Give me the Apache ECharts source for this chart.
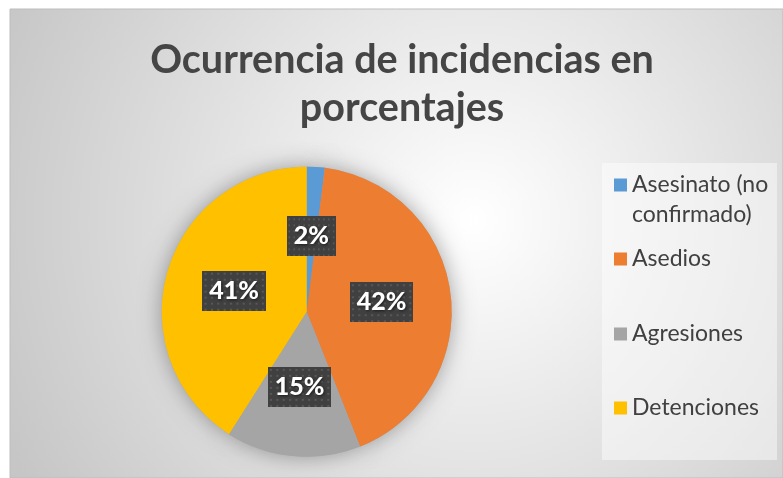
<!DOCTYPE html>
<html>
<head>
<meta charset="utf-8">
<script src="https://cdn.jsdelivr.net/npm/echarts@6/dist/echarts.min.js"></script>
<style>
  html, body { margin: 0; padding: 0; background: #ffffff; }
  #main { width: 783px; height: 478px; }
</style>
</head>
<body>
<div id="main"></div>
<script>
// datos del gráfico
const categorias = ['Asesinato (no confirmado)', 'Asedios', 'Agresiones', 'Detenciones'];
const porcentajes = [2, 42, 15, 41];
const colores = ['#5B9BD5', '#ED7D31', '#A5A5A5', '#FFC000'];
const titulo = 'Ocurrencia de incidencias en\nporcentajes';

// fondo punteado de las etiquetas
function patron() {
  const c = document.createElement('canvas');
  c.width = 60; c.height = 40;
  const ctx = c.getContext('2d');
  ctx.fillStyle = '#404040';
  ctx.fillRect(0, 0, 60, 40);
  ctx.fillStyle = '#575757';
  for (let x = 2; x < 60; x += 6) {
    for (let y = 2; y < 40; y += 6) ctx.fillRect(x, y, 2, 2);
  }
  return c;
}

const datos = categorias.map((n, i) => ({ name: n, value: porcentajes[i], itemStyle: { color: colores[i] } }));

// leyenda: una por elemento para colocar cada una
// (la primera lleva una línea vacía arriba para alinear el icono con la primera línea)
const leyendaTops = [140, 244, 319, 393];
const leyendas = categorias.map((n, i) => ({
  data: [n],
  orient: 'vertical',
  left: 614,
  top: leyendaTops[i],
  padding: 0,
  icon: 'rect',
  itemWidth: 13,
  itemHeight: 13,
  selectedMode: false,
  formatter: name => i === 0 ? '\n' + name.replace(' (no ', ' (no\n') : name,
  textStyle: {
    fontFamily: 'Lato',
    fontSize: 23,
    color: '#404040',
    lineHeight: 30
  }
}));

const myChart = echarts.init(document.getElementById('main'));
myChart.setOption({
  animation: false,
  graphic: [
    {
      type: 'rect', z: -10, silent: true,
      shape: { x: 10, y: 9, width: 773, height: 469 },
      style: {
        fill: {
          type: 'radial', x: 0.6, y: 0.45, r: 1.1,
          colorStops: [{ offset: 0, color: '#ffffff' }, { offset: 1, color: '#c6c6c6' }]
        },
        stroke: '#bdbdbd', lineWidth: 1
      }
    },
    {
      type: 'rect', z: -9, silent: true,
      shape: { x: 602, y: 163, width: 175, height: 297 },
      style: { fill: 'rgba(255,255,255,0.45)' }
    }
  ],
  title: {
    text: titulo,
    left: 397,
    top: 31,
    textAlign: 'center',
    textStyle: {
      fontFamily: 'Lato',
      fontWeight: 'bold',
      fontSize: 39.5,
      lineHeight: 48,
      color: '#454545'
    }
  },
  legend: leyendas,
  series: [
    {
      type: 'pie',
      z: 3,
      center: [306.7, 311.7],
      radius: 145,
      startAngle: 90,
      clockwise: true,
      silent: true,
      data: datos,
      itemStyle: { borderWidth: 0 },
      labelLine: { show: false },
      label: {
        show: true,
        position: 'inside',
        formatter: p => p.value + '%',
        fontFamily: 'Lato',
        fontWeight: 900,
        fontSize: 25,
        color: '#ffffff',
        lineHeight: 26,
        padding: [7, 7, 7, 7],
        backgroundColor: { image: patron() },
        shadowColor: 'rgba(0,0,0,0.55)',
        shadowBlur: 5,
        shadowOffsetX: 3,
        shadowOffsetY: 3,
        textShadowColor: 'rgba(0,0,0,0.6)',
        textShadowBlur: 3,
        textShadowOffsetX: 1,
        textShadowOffsetY: 1
      }
    },
    {
      // sombra suave detrás del pastel
      type: 'pie',
      z: 1,
      center: [306.7, 311.7],
      radius: 145,
      startAngle: 90,
      silent: true,
      data: porcentajes.map(v => ({ value: v })),
      itemStyle: { color: '#aaaaaa', shadowBlur: 22, shadowColor: 'rgba(0,0,0,0.35)' },
      label: { show: false },
      labelLine: { show: false }
    }
  ]
});
</script>
</body>
</html>
